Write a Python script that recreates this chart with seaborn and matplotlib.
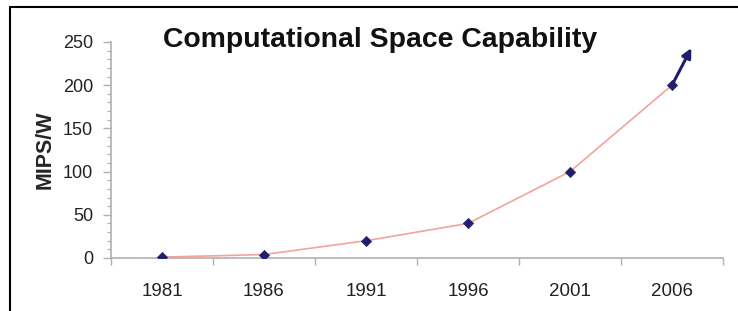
import numpy as np
import pandas as pd
import matplotlib
matplotlib.use("Agg")
import matplotlib.pyplot as plt
import seaborn as sns
from matplotlib.lines import Line2D
from matplotlib.ticker import MultipleLocator

# Data
years = ["1981", "1986", "1991", "1996", "2001", "2006"]
mips_per_watt = [1, 4, 20, 40, 100, 200]
trend_arrow_head = 243  # where the "keeps rising" arrow points to

sns.set_style("white")
plt.rcParams["font.family"] = ["Liberation Sans", "DejaVu Sans"]

df = pd.DataFrame({"year": years, "mips": mips_per_watt})
df["pos"] = np.arange(len(years))

fig = plt.figure(figsize=(7.38, 3.11), dpi=100)
ax = fig.add_axes([111 / 738, (311 - 258) / 311, 612 / 738, 216 / 311])

sns.lineplot(data=df, x="pos", y="mips", ax=ax, color="#f2a39c", linewidth=1.2)
sns.scatterplot(data=df, x="pos", y="mips", ax=ax, marker="D", s=28,
                color="#1f1f6b", edgecolor="#1f1f6b", zorder=3)

# arrow showing the trend goes on after 2006
last = df["pos"].iloc[-1]
ax.annotate("", xy=(last + 0.19, trend_arrow_head), xytext=(last, mips_per_watt[-1]),
            arrowprops=dict(arrowstyle="-|>", color="#1f1f6b", lw=2.2,
                            mutation_scale=14, shrinkA=0, shrinkB=0))

ax.set_xlim(-0.5, len(years) - 0.5)
ax.set_ylim(0, 250)
ax.set_xticks(df["pos"])
ax.set_xticklabels(years)
ax.set_xticks(np.arange(-0.5, len(years)), minor=True)
ax.yaxis.set_major_locator(MultipleLocator(50))
ax.yaxis.set_minor_locator(MultipleLocator(10))

for side in ["top", "right"]:
    ax.spines[side].set_visible(False)
for side in ["left", "bottom"]:
    ax.spines[side].set_color("#b0b0b0")
    ax.spines[side].set_linewidth(1.2)

ax.tick_params(axis="y", which="major", length=6, color="#b0b0b0", width=1,
               labelsize=13, labelcolor="#222222", left=True, pad=7)
ax.tick_params(axis="y", which="minor", length=3, color="#b0b0b0", width=0.8, left=True)
ax.tick_params(axis="x", which="major", length=0, labelsize=13.5,
               labelcolor="#222222", pad=18)
ax.tick_params(axis="x", which="minor", length=5, color="#b0b0b0", width=1,
               bottom=True)

ax.set_xlabel("")
ax.set_ylabel("MIPS/W", fontsize=15.5, fontweight="bold")
ax.yaxis.set_label_coords((56 - 111) / 612, 0.5)

fig.text(380 / 738, 1 - 40 / 311, "Computational Space Capability",
         ha="center", va="center", fontsize=20.4, fontweight="bold", color="#111111")

# frame lines of the cropped figure
fig.add_artist(Line2D([10 / 738, 1], [1 - 7 / 311, 1 - 7 / 311], color="black", lw=1.5))
fig.add_artist(Line2D([10 / 738, 10 / 738], [0, 1 - 7 / 311], color="black", lw=1.5))

fig.savefig("out.png", dpi=100)
